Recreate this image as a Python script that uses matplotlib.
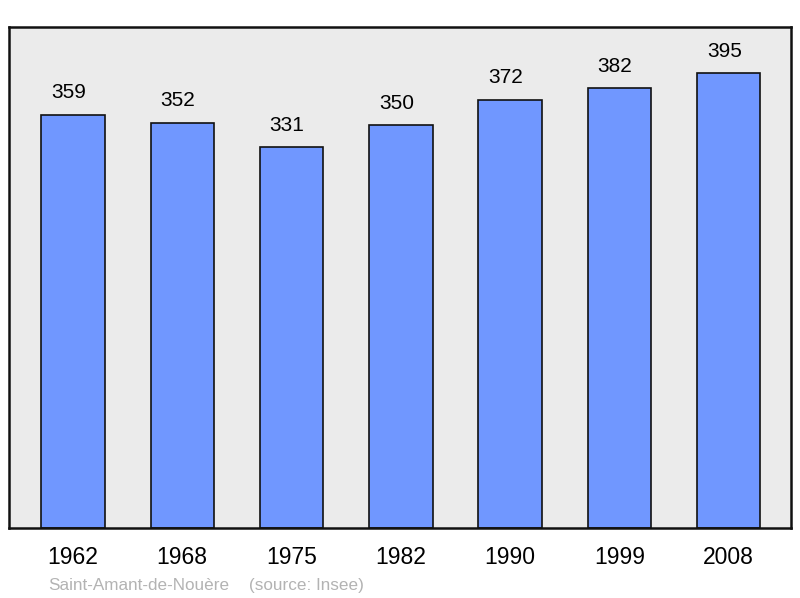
import matplotlib
matplotlib.use("Agg")
import matplotlib.pyplot as plt

# ── data ─────────────────────────────────────────────────────────────────────
years = ["1962", "1968", "1975", "1982", "1990", "1999", "2008"]
population = [359, 352, 331, 350, 372, 382, 395]
commune = "Saint-Amant-de-Nouère"
source = "(source: Insee)"

plt.rcParams["font.family"] = ["Liberation Sans", "DejaVu Sans"]

fig = plt.figure(figsize=(8.0, 5.98), dpi=100)
ax = fig.add_axes([9 / 800, 1 - 528 / 598, 782 / 800, 501 / 598])
ax.set_facecolor("#ebebeb")

x = list(range(len(years)))
ax.bar(x, population, width=0.58, color="#7097ff", edgecolor="#111111",
       linewidth=1.2, zorder=2)
for xi, v in zip(x, population):
    ax.text(xi - 0.04, v + 10.5, str(v), ha="center", va="bottom", fontsize=15)

ax.set_xlim(-0.585, 6.57)
ax.set_ylim(0, 435)
ax.set_yticks([])
ax.set_xticks(x)
ax.set_xticklabels(years, fontsize=16.5)
ax.tick_params(axis="x", length=0, pad=13)
for s in ax.spines.values():
    s.set_linewidth(1.8)
    s.set_color("#111111")

fig.text(48 / 800, 1 - 585.5 / 598, commune, color="#b3b3b3", fontsize=12.3,
         va="center", ha="left")
fig.text(249 / 800, 1 - 585.5 / 598, source, color="#b3b3b3", fontsize=12.3,
         va="center", ha="left")

fig.savefig("out.png", dpi=100)
